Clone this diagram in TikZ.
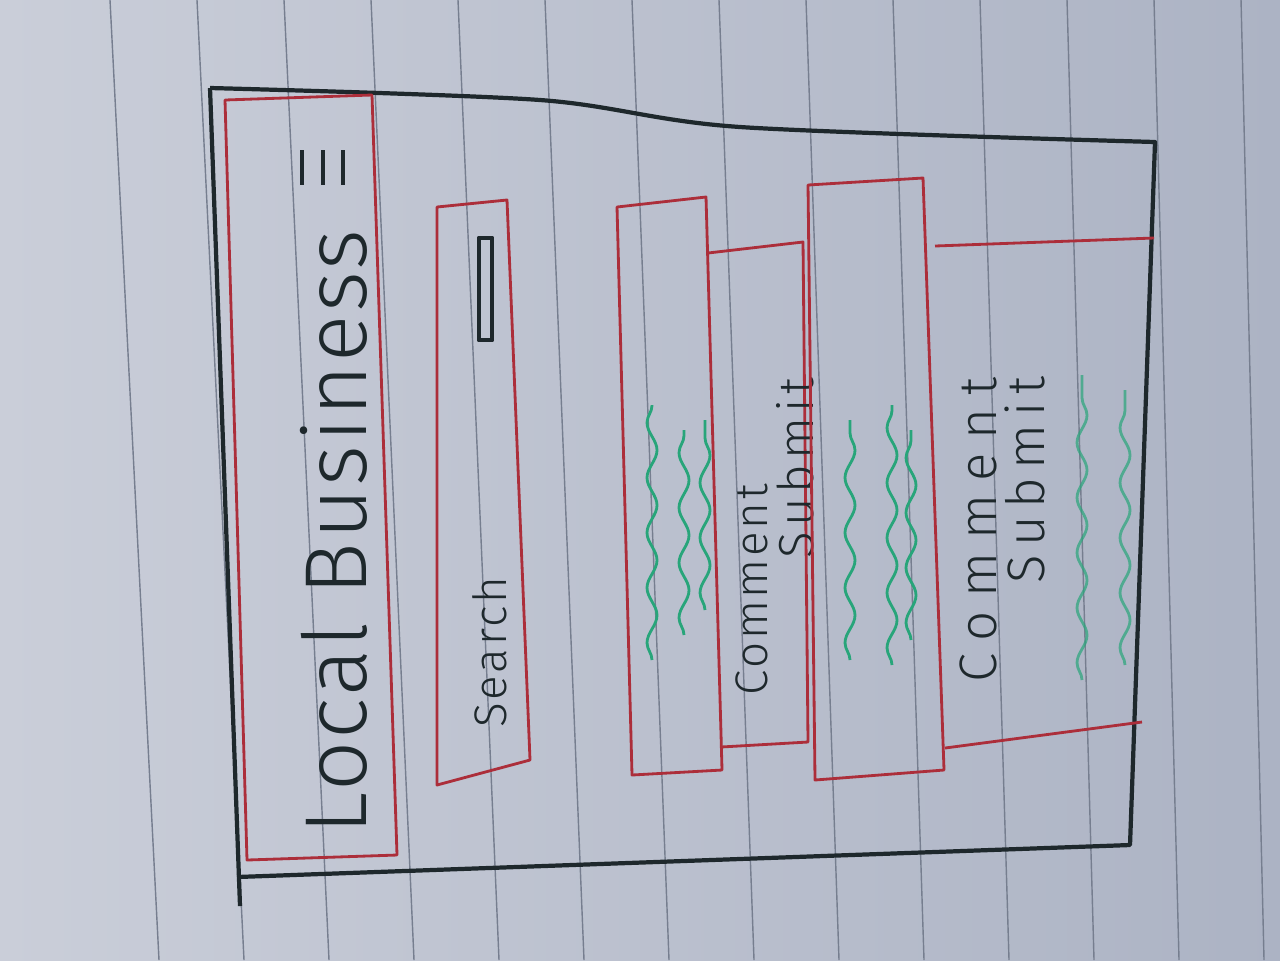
\documentclass[tikz,border=0pt]{standalone}
\usepackage{fontspec}
\setmainfont{Fira Sans}[UprightFont=* Light]
\usetikzlibrary{decorations.pathmorphing}

\definecolor{paperL}{RGB}{202,206,217}
\definecolor{paperR}{RGB}{172,179,196}
\definecolor{ruleline}{RGB}{118,126,143}
\definecolor{ink}{RGB}{30,40,44}
\definecolor{redink}{RGB}{172,46,58}
\definecolor{greenink}{RGB}{40,165,122}

\tikzset{
  frame/.style={draw=ink, line width=1.2pt, line join=round},
  redbox/.style={draw=redink, line width=0.8pt, line join=round},
  scribble/.style={draw=greenink, line width=0.8pt,
    decorate, decoration={snake, segment length=0.55cm, amplitude=0.5mm}},
  handtext/.style={text=ink, rotate=90, inner sep=0pt},
}

\begin{document}
\begin{tikzpicture}[x=0.01cm, y=-0.01cm]
  \useasboundingbox (0,0) rectangle (1280,960);
  \shade [left color=paperL, right color=paperR] (0,0) rectangle (1280,960);

  % ruled paper
  \foreach \i in {0,...,13}
    \draw [ruleline, line width=0.4pt] ({110+87*\i},0) -- ({159+85*\i},960);

  % outer frame
  \draw [frame] plot [smooth] coordinates {(210,88) (540,100) (740,127) (1155,142)}
    -- (1130,845) -- (237,877);
  \draw [frame] (210,88) -- (240,906);

  % header
  \draw [redbox] (225,100) -- (372,95) -- (397,855) -- (247,860) -- cycle;
  \node [handtext, font=\fontsize{25}{30}\selectfont\addfontfeature{LetterSpace=3}] (title) at (334,532) {Local Business};
  \foreach \mx in {302,323,343}
    \draw [ink, line width=1.2pt] (\mx,150) -- (\mx,185);

  % search bar
  \draw [redbox] (437,207) -- (507,200) -- (530,760) -- (437,785) -- cycle;
  \node [handtext, font=\fontsize{13}{16}\selectfont\addfontfeature{LetterSpace=6}] (search) at (490,652) {Search};
  \draw [frame, line width=1.4pt] (479,238) rectangle (492,340);

  % first post
  \draw [redbox] (617,207) -- (706,197) -- (722,770) -- (632,775) -- cycle;
  \draw [scribble] (652,660) -- (652,405);
  \draw [scribble] (684,635) -- (684,430);
  \draw [scribble] (705,610) -- (705,420);
  \draw [redbox] (708,253) -- (803,242) -- (808,742) -- (721,747);
  \node [handtext, font=\fontsize{13}{16}\selectfont\addfontfeature{LetterSpace=6}] (comment1) at (752,590) {Comment};
  \node [handtext, font=\fontsize{14}{17}\selectfont\addfontfeature{LetterSpace=10}] (submit1) at (795,468) {Submit};

  % second post
  \draw [redbox] (808,185) -- (923,178) -- (944,770) -- (815,780) -- cycle;
  \draw [scribble] (850,660) -- (850,420);
  \draw [scribble] (892,665) -- (892,405);
  \draw [scribble] (911,640) -- (911,430);
  \draw [redbox] (935,246) -- (1154,238);
  \draw [redbox] (945,748) -- (1142,722);
  \node [handtext, font=\fontsize{15}{18}\selectfont\addfontfeature{LetterSpace=25}] (comment2) at (978,530) {Comment};
  \node [handtext, font=\fontsize{15}{18}\selectfont\addfontfeature{LetterSpace=15}] (submit2) at (1025,480) {Submit};
  \draw [scribble, draw opacity=0.7] (1082,680) -- (1082,375);
  \draw [scribble, draw opacity=0.7] (1125,665) -- (1125,390);
\end{tikzpicture}
\end{document}
